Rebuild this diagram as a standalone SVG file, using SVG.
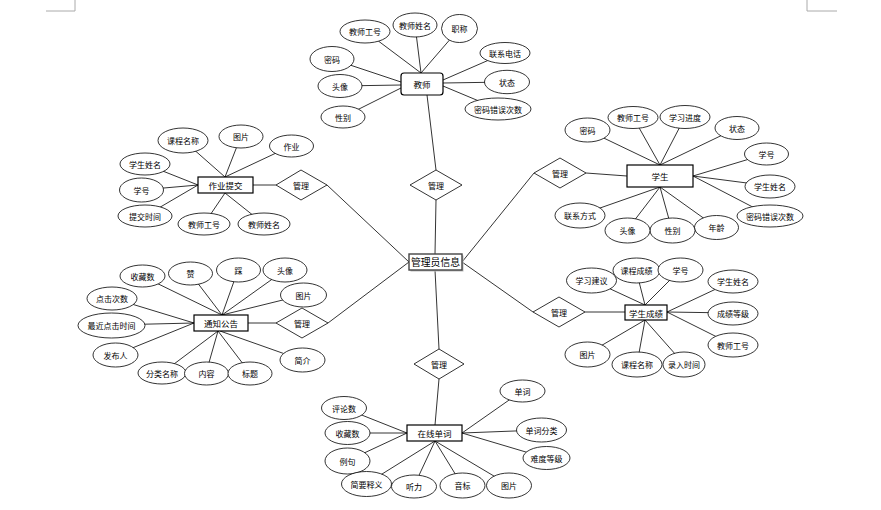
<svg xmlns="http://www.w3.org/2000/svg" width="881" height="510" viewBox="0 0 881 510">
<defs>
<style>
.c line{stroke:#000;stroke-width:0.8}
ellipse{fill:#fff;stroke:#000;stroke-width:0.8}
.d{fill:#fff;stroke:#000;stroke-width:0.8}
.e{fill:#fff;stroke:#000;stroke-width:1.2}
.sh{fill:#bbb}
text{font-family:"Noto Sans CJK SC","Noto Sans",sans-serif;font-size:8px;fill:#000;text-anchor:middle;dominant-baseline:central}
.t{font-size:8.5px}
.big{font-size:9.8px}
.m{stroke:#aaa;stroke-width:1;fill:none}
</style>
</defs>
<rect width="881" height="510" fill="#fff"/>
<path class="m" d="M46 11H75V0M807 0V11H837"/>
<g class="c" id="connectors">
<!-- teacher -->
<line x1="365" y1="31" x2="421" y2="73"/>
<line x1="415" y1="25" x2="421" y2="73"/>
<line x1="459" y1="29" x2="421" y2="73"/>
<line x1="332" y1="59" x2="401" y2="82"/>
<line x1="340" y1="86" x2="401" y2="85"/>
<line x1="343" y1="117" x2="401" y2="88"/>
<line x1="505" y1="53" x2="443" y2="80"/>
<line x1="507" y1="82" x2="443" y2="83"/>
<line x1="498" y1="109" x2="443" y2="86"/>
<line x1="427" y1="95" x2="436" y2="170"/>
<line x1="436" y1="200" x2="435" y2="254"/>
<!-- homework -->
<line x1="183" y1="140" x2="225" y2="177"/>
<line x1="241" y1="136" x2="225" y2="177"/>
<line x1="291" y1="146" x2="225" y2="177"/>
<line x1="145" y1="164" x2="198" y2="185"/>
<line x1="141" y1="190" x2="198" y2="185"/>
<line x1="145" y1="216" x2="198" y2="185"/>
<line x1="204" y1="224" x2="225" y2="193"/>
<line x1="264" y1="224" x2="225" y2="193"/>
<line x1="253" y1="185" x2="276" y2="185"/>
<line x1="327" y1="185" x2="409" y2="262"/>
<!-- student -->
<line x1="587" y1="130" x2="660" y2="165"/>
<line x1="633" y1="117" x2="660" y2="165"/>
<line x1="685" y1="117" x2="660" y2="165"/>
<line x1="737" y1="128" x2="660" y2="165"/>
<line x1="766" y1="154" x2="693" y2="176"/>
<line x1="770" y1="186" x2="693" y2="176"/>
<line x1="770" y1="216" x2="693" y2="176"/>
<line x1="580" y1="215" x2="660" y2="187"/>
<line x1="627" y1="230" x2="660" y2="187"/>
<line x1="672" y1="230" x2="660" y2="187"/>
<line x1="716" y1="227" x2="660" y2="187"/>
<line x1="586" y1="173" x2="627" y2="176"/>
<line x1="462" y1="262" x2="534" y2="173"/>
<!-- notice -->
<line x1="142" y1="276" x2="222" y2="315"/>
<line x1="190" y1="273" x2="222" y2="315"/>
<line x1="238" y1="270" x2="222" y2="315"/>
<line x1="285" y1="270" x2="222" y2="315"/>
<line x1="303" y1="295" x2="222" y2="315"/>
<line x1="112" y1="298" x2="194" y2="323"/>
<line x1="111" y1="325" x2="194" y2="323"/>
<line x1="115" y1="355" x2="194" y2="323"/>
<line x1="162" y1="373" x2="218" y2="331"/>
<line x1="206" y1="373" x2="218" y2="331"/>
<line x1="250" y1="373" x2="218" y2="331"/>
<line x1="302" y1="360" x2="220" y2="331"/>
<line x1="248" y1="323" x2="276" y2="323"/>
<line x1="328" y1="323" x2="409" y2="262"/>
<!-- score -->
<line x1="591" y1="280" x2="645" y2="305"/>
<line x1="636" y1="270" x2="645" y2="305"/>
<line x1="680" y1="270" x2="645" y2="305"/>
<line x1="733" y1="281" x2="667" y2="312"/>
<line x1="733" y1="313" x2="667" y2="312"/>
<line x1="733" y1="345" x2="667" y2="312"/>
<line x1="587" y1="354" x2="645" y2="320"/>
<line x1="637" y1="364" x2="645" y2="320"/>
<line x1="684" y1="364" x2="645" y2="320"/>
<line x1="585" y1="312" x2="625" y2="312"/>
<line x1="462" y1="262" x2="533" y2="312"/>
<!-- words -->
<line x1="435" y1="270" x2="439" y2="349"/>
<line x1="439" y1="379" x2="435" y2="425"/>
<line x1="344" y1="408" x2="407" y2="433"/>
<line x1="347" y1="433" x2="407" y2="433"/>
<line x1="347" y1="461" x2="407" y2="433"/>
<line x1="366" y1="484" x2="435" y2="441"/>
<line x1="414" y1="486" x2="435" y2="441"/>
<line x1="462" y1="485" x2="435" y2="441"/>
<line x1="509" y1="485" x2="435" y2="441"/>
<line x1="522" y1="391" x2="462" y2="433"/>
<line x1="541" y1="430" x2="462" y2="433"/>
<line x1="546" y1="458" x2="462" y2="433"/>
</g>

<g id="teacher">
<rect class="e" x="401" y="73" width="42" height="22" rx="3"/>
<text class="t" x="422" y="84">教师</text>
</g>
<g id="teacher-attrs">
<ellipse cx="365" cy="31.5" rx="25" ry="11.5"/><text x="365" y="31.5">教师工号</text>
<ellipse cx="415" cy="25" rx="22" ry="12"/><text x="415" y="25">教师姓名</text>
<ellipse cx="459.5" cy="28.5" rx="18" ry="14"/><text x="459.5" y="28.5">职称</text>
<ellipse cx="332" cy="59" rx="22" ry="12.5"/><text x="332" y="59">密码</text>
<ellipse cx="340" cy="86" rx="22" ry="11.5"/><text x="340" y="86">头像</text>
<ellipse cx="343" cy="117" rx="22" ry="11"/><text x="343" y="117">性别</text>
<ellipse cx="505" cy="53" rx="25" ry="10.5"/><text x="505" y="53">联系电话</text>
<ellipse cx="507" cy="82" rx="22.5" ry="11.7"/><text x="507" y="82">状态</text>
<ellipse cx="498" cy="109" rx="33" ry="11"/><text x="498" y="109">密码错误次数</text>
</g>
<g id="rel-teacher">
<polygon class="d" points="436,170 462,185 436,200 410,185"/>
<text x="436" y="185">管理</text>
</g>

<g id="homework">
<rect class="e" x="198" y="177" width="55" height="16"/>
<text class="t" x="225.5" y="185">作业提交</text>
</g>
<g id="homework-attrs">
<ellipse cx="183" cy="140.5" rx="25" ry="12.5"/><text x="183" y="140.5">课程名称</text>
<ellipse cx="241" cy="136.5" rx="22" ry="11.5"/><text x="241" y="136.5">图片</text>
<ellipse cx="291.5" cy="146" rx="22" ry="11"/><text x="291.5" y="146">作业</text>
<ellipse cx="145" cy="164" rx="25" ry="11"/><text x="145" y="164">学生姓名</text>
<ellipse cx="141.5" cy="190" rx="22" ry="12"/><text x="141.5" y="190">学号</text>
<ellipse cx="145" cy="216" rx="27" ry="11"/><text x="145" y="216">提交时间</text>
<ellipse cx="204" cy="224" rx="26" ry="11"/><text x="204" y="224">教师工号</text>
<ellipse cx="264" cy="224" rx="26" ry="11"/><text x="264" y="224">教师姓名</text>
</g>
<g id="rel-homework">
<polygon class="d" points="301,170 327,185 301,200 276,185"/>
<text x="301" y="185">管理</text>
</g>

<g id="student">
<rect class="e" x="627" y="165" width="66" height="22"/>
<text class="t" x="660" y="176">学生</text>
</g>
<g id="student-attrs">
<ellipse cx="587.5" cy="130" rx="22.5" ry="12"/><text x="587.5" y="130">密码</text>
<ellipse cx="633" cy="117.5" rx="25" ry="11"/><text x="633" y="117.5">教师工号</text>
<ellipse cx="685" cy="117" rx="25" ry="11.5"/><text x="685" y="117">学习进度</text>
<ellipse cx="737" cy="128" rx="22" ry="11.5"/><text x="737" y="128">状态</text>
<ellipse cx="766.5" cy="154" rx="22" ry="11"/><text x="766.5" y="154">学号</text>
<ellipse cx="770" cy="186.5" rx="25" ry="11.5"/><text x="770" y="186.5">学生姓名</text>
<ellipse cx="770" cy="216" rx="33" ry="11"/><text x="770" y="216">密码错误次数</text>
<ellipse cx="716.5" cy="227.5" rx="22" ry="12"/><text x="716.5" y="227.5">年龄</text>
<ellipse cx="672.5" cy="230.5" rx="22.5" ry="12.5"/><text x="672.5" y="230.5">性别</text>
<ellipse cx="627.5" cy="230.5" rx="22.5" ry="12.5"/><text x="627.5" y="230.5">头像</text>
<ellipse cx="580" cy="215.5" rx="25" ry="12.5"/><text x="580" y="215.5">联系方式</text>
</g>
<g id="rel-student">
<polygon class="d" points="560,158 586,173 560,188 534,173"/>
<text x="560" y="173">管理</text>
</g>

<g id="notice">
<rect class="e" x="194" y="315" width="54" height="16"/>
<text class="t" x="221" y="323">通知公告</text>
</g>
<g id="notice-attrs">
<ellipse cx="142.5" cy="276" rx="22.5" ry="11"/><text x="142.5" y="276">收藏数</text>
<ellipse cx="190.5" cy="273.5" rx="22" ry="11.5"/><text x="190.5" y="273.5">赞</text>
<ellipse cx="238.5" cy="270" rx="22" ry="12"/><text x="238.5" y="270">踩</text>
<ellipse cx="285" cy="270" rx="22" ry="12"/><text x="285" y="270">头像</text>
<ellipse cx="303.5" cy="295" rx="23" ry="12"/><text x="303.5" y="295">图片</text>
<ellipse cx="112" cy="298.5" rx="25" ry="11.5"/><text x="112" y="298.5">点击次数</text>
<ellipse cx="111.5" cy="325.5" rx="33.5" ry="12.5"/><text x="111.5" y="325.5">最近点击时间</text>
<ellipse cx="115.5" cy="355" rx="22.5" ry="12"/><text x="115.5" y="355">发布人</text>
<ellipse cx="162" cy="373" rx="24" ry="11"/><text x="162" y="373">分类名称</text>
<ellipse cx="206.5" cy="373.5" rx="22" ry="11.5"/><text x="206.5" y="373.5">内容</text>
<ellipse cx="250" cy="373.5" rx="22" ry="11.5"/><text x="250" y="373.5">标题</text>
<ellipse cx="302.5" cy="360" rx="22.5" ry="12"/><text x="302.5" y="360">简介</text>
</g>
<g id="rel-notice">
<polygon class="d" points="302,308 328,323 302,338 276,323"/>
<text x="302" y="323">管理</text>
</g>

<g id="score">
<rect class="e" x="625" y="305" width="42" height="15"/>
<text class="t" x="646" y="312.5">学生成绩</text>
</g>
<g id="score-attrs">
<ellipse cx="591.5" cy="280.5" rx="25" ry="12.5"/><text x="591.5" y="280.5">学习建议</text>
<ellipse cx="636.5" cy="270.5" rx="23.5" ry="12.5"/><text x="636.5" y="270.5">课程成绩</text>
<ellipse cx="680.5" cy="270" rx="22.5" ry="12"/><text x="680.5" y="270">学号</text>
<ellipse cx="733" cy="281.5" rx="25" ry="11.5"/><text x="733" y="281.5">学生姓名</text>
<ellipse cx="733" cy="313.5" rx="25" ry="11.5"/><text x="733" y="313.5">成绩等级</text>
<ellipse cx="733" cy="345" rx="25" ry="12"/><text x="733" y="345">教师工号</text>
<ellipse cx="684" cy="364.5" rx="21" ry="12.5"/><text x="684" y="364.5">录入时间</text>
<ellipse cx="637" cy="364.5" rx="25" ry="12.5"/><text x="637" y="364.5">课程名称</text>
<ellipse cx="587.5" cy="354.5" rx="22.5" ry="12.5"/><text x="587.5" y="354.5">图片</text>
</g>
<g id="rel-score">
<polygon class="d" points="559,297 585,312 559,327 533,312"/>
<text x="559" y="312">管理</text>
</g>

<g id="words">
<rect class="e" x="407" y="425" width="55" height="16"/>
<text class="t" x="434.5" y="433">在线单词</text>
</g>
<g id="words-attrs">
<ellipse cx="344" cy="408" rx="22.5" ry="11.5"/><text x="344" y="408">评论数</text>
<ellipse cx="347.5" cy="433" rx="22.5" ry="11.5"/><text x="347.5" y="433">收藏数</text>
<ellipse cx="347.5" cy="461" rx="22.5" ry="13"/><text x="347.5" y="461">例句</text>
<ellipse cx="366.5" cy="484" rx="25" ry="12.5"/><text x="366.5" y="484">简要释义</text>
<ellipse cx="414" cy="486.5" rx="22.5" ry="11.5"/><text x="414" y="486.5">听力</text>
<ellipse cx="462.5" cy="485.5" rx="22.5" ry="12.5"/><text x="462.5" y="485.5">音标</text>
<ellipse cx="509" cy="485.5" rx="22.5" ry="12.5"/><text x="509" y="485.5">图片</text>
<ellipse cx="522.5" cy="391" rx="22.5" ry="11"/><text x="522.5" y="391">单词</text>
<ellipse cx="541.5" cy="430" rx="25" ry="12"/><text x="541.5" y="430">单词分类</text>
<ellipse cx="546.5" cy="458" rx="23.5" ry="11.5"/><text x="546.5" y="458">难度等级</text>
</g>
<g id="rel-words">
<polygon class="d" points="439,349 464,364 439,379 414,364"/>
<text x="439" y="364">管理</text>
</g>

<g id="admin">
<rect class="sh" x="410.5" y="255.5" width="53" height="16"/>
<rect x="409" y="254" width="53" height="16" fill="#fff" stroke="#444" stroke-width="1.4"/>
<text class="big" x="435.5" y="262">管理员信息</text>
</g>
</svg>
